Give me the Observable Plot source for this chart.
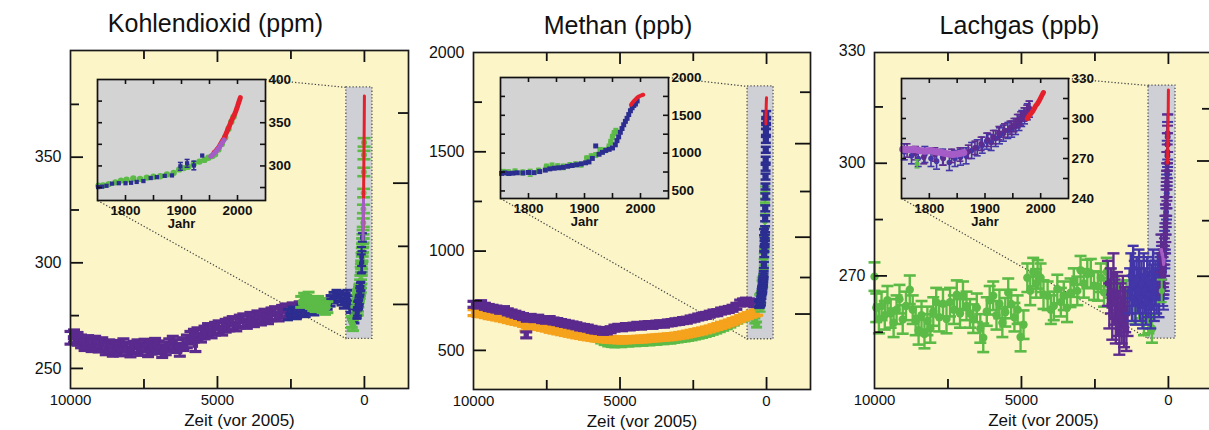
<!DOCTYPE html>
<html><head><meta charset="utf-8">
<script src="https://cdn.jsdelivr.net/npm/d3@7"></script>
<script src="https://cdn.jsdelivr.net/npm/@observablehq/plot@0.6"></script>
<style>
body{margin:0;background:#fff;}
#chart{position:relative;width:1209px;height:430px;overflow:hidden;background:#fff;font-family:"Liberation Sans",Arial,Helvetica,sans-serif;}
#chart svg{position:absolute;overflow:visible;}
</style></head><body><div id="chart"></div>
<script>
// ---------------- DATA ----------------
// main axes (years before 2005)
const xLabelsMain = [10000, 5000, 0];
const xMajorMain = [5000, 0];
const xMinorMain = [7500, 2500];
const insetXTicks = [1800, 1850, 1900, 1950, 2000];
const insetXLabels = [1800, 1900, 2000];

// CO2 (ppm) ice-core, years before 2005: [BP, value]
const co2Purple = [[10000,264.5],[9880,265.2],[9760,264.0],[9640,262.8],[9520,261.5],[9400,262.5],[9280,261.0],[9160,262.2],[9040,260.8],[8920,261.5],[8800,259.5],[8680,260.5],[8560,258.8],[8440,260.2],[8320,259.0],[8200,261.0],[8080,259.5],[7960,258.5],[7840,259.8],[7720,260.5],[7600,259.2],[7480,260.8],[7360,258.6],[7240,259.8],[7120,261.2],[7000,260.0],[6880,258.2],[6760,259.5],[6640,261.0],[6520,262.2],[6400,260.6],[6280,258.8],[6160,261.5],[6040,262.8],[5920,264.5],[5800,265.5],[5750,261.0],[5680,266.2],[5560,265.5],[5440,267.0],[5320,268.2],[5200,267.5],[5080,268.8],[4960,269.5],[4840,268.8],[4720,270.2],[4600,270.8],[4480,271.5],[4360,270.8],[4240,272.2],[4120,272.8],[4000,272.0],[3880,273.5],[3760,272.8],[3640,274.2],[3520,273.6],[3400,275.0],[3280,274.2],[3160,275.6],[3040,276.2],[2920,275.5],[2800,276.8],[2680,277.5],[2560,276.8],[2440,278.0],[2320,277.2],[2200,278.5],[2080,277.8]];
const co2NavyBP = [[2600,275.5],[2450,276.5],[2300,276.0],[2150,277.5],[2000,277.0],[1850,278.5],[1700,277.8],[1550,279.0],[1400,279.5],[1250,280.5],[1150,282.0],[1050,283.5],[950,284.5],[850,284.0],[780,282.5],[700,281.0],[640,283.0],[580,284.5],[520,282.0],[470,279.0],[420,276.5],[380,275.0],[340,274.0],[300,277.0],[270,279.5]];
const co2GreenBP = [[2150,281.5],[2050,283.0],[1980,282.0],[1900,283.5],[1820,281.0],[1740,280.0],[1660,279.5],[1580,281.5],[1500,280.5],[1420,279.0],[1340,278.2],[1260,279.0],[430,272.0],[390,270.5]];
// CO2 recent, calendar years: [year, value(, error)]
const co2Green = [[1752,277],[1760,277.5],[1770,279],[1782,281],[1792,283],[1802,284],[1814,285.5],[1826,285],[1838,286.5],[1850,287.5],[1862,288],[1874,290],[1886,292],[1896,296],[1904,297.5],[1912,299],[1922,302.5],[1932,305],[1941,307],[1948,309.5],[1955,311.5],[1960,313.5],[1966,319],[1972,325.5],[1978,333],[1984,343],[1989,351],[1993,357]];
const co2Navy = [[1751,275.5],[1758,276],[1766,277],[1776,279.5],[1788,280],[1800,280],[1810,280.5],[1820,281.5],[1832,282.5],[1845,286],[1856,287],[1870,288.5],[1883,289],[1898,299.5,4.5],[1910,303,4.5],[1922,300.5,5],[1937,312]];
const co2Violet = [[1952,311],[1956,313],[1960,315.5],[1964,318.5],[1968,322],[1972,326],[1976,330]];
const co2Red = [[1958,315.5],[1961,317],[1964,319.5],[1967,322],[1970,325.5],[1973,329],[1976,332],[1979,336.5],[1982,341],[1985,345.5],[1988,350.5],[1991,355],[1994,358.5],[1997,363.5],[2000,369],[2003,375],[2005,379]];
const co2Window = [614, -273, 264, 383]; // zoom box: BP from, BP to, ppm low, ppm high

// CH4 (ppb)
const ch4Purple = [[10000,732],[9870,728],[9740,735],[9610,722],[9480,716],[9350,712],[9220,708],[9090,702],[8960,705],[8830,694],[8700,688],[8570,682],[8440,676],[8310,670],[8200,578],[8180,662],[8050,666],[7920,660],[7790,662],[7660,655],[7530,652],[7400,655],[7270,648],[7140,645],[7010,640],[6880,636],[6750,632],[6620,628],[6490,624],[6360,618],[6230,615],[6100,612],[5970,606],[5840,602],[5710,600],[5580,596],[5450,598],[5320,604],[5190,612],[5060,616],[4930,614],[4800,620],[4670,618],[4540,622],[4410,626],[4280,622],[4150,628],[4020,630],[3890,626],[3760,632],[3630,634],[3500,632],[3370,638],[3240,640],[3110,644],[2980,646],[2850,650],[2720,652],[2590,658],[2460,662],[2330,668],[2200,672],[2070,676],[1940,682],[1810,688],[1680,690],[1550,698],[1420,702],[1290,706],[1160,712],[1030,722],[900,738],[800,744],[700,748],[600,744],[500,740],[420,736]];
const ch4Orange = [[10000,690],[9870,686],[9740,684],[9610,680],[9480,675],[9350,672],[9220,668],[9090,664],[8960,660],[8830,655],[8700,650],[8570,646],[8440,642],[8310,636],[8230,612],[8180,630],[8050,628],[7920,624],[7790,620],[7660,616],[7530,612],[7400,606],[7270,602],[7140,598],[7010,594],[6880,590],[6750,586],[6620,582],[6490,578],[6360,575],[6230,571],[6100,568],[5970,565],[5840,562],[5710,560],[5580,558],[5450,556],[5320,555],[5190,554],[5060,553],[4930,552],[4800,553],[4670,554],[4540,555],[4410,556],[4280,557],[4150,558],[4020,560],[3890,562],[3760,563],[3630,565],[3500,566],[3370,568],[3240,569],[3110,572],[2980,575],[2850,578],[2720,582],[2590,586],[2460,590],[2330,594],[2200,598],[2070,603],[1940,608],[1810,614],[1680,620],[1550,626],[1420,632],[1290,638],[1160,645],[1030,652],[900,660],[770,668],[640,675],[510,682],[400,688],[320,692]];
const ch4GreenBP = [[6500,618],[6380,610],[6260,602],[6140,596],[6020,585],[5900,572],[5780,560],[5660,550],[5540,542],[5420,535],[5300,532],[5180,530],[5060,534],[4940,531],[4820,536],[4700,534],[4580,538],[4460,536],[4340,540],[4220,538],[4100,542],[3980,540],[3860,544],[3740,543],[3620,547],[3500,546],[3380,550],[3260,549],[3140,553],[3020,555],[2900,558],[2780,560],[2660,563],[2540,566],[2420,570],[2300,574],[2180,578],[2060,583],[1940,588],[1820,594],[1700,600],[1580,607],[1460,614],[1340,622],[1220,630],[1100,640],[980,650],[860,658],[740,665],[620,672],[500,676],[400,650],[340,630]];
const ch4Navy = [[1752,732],[1758,738],[1765,730],[1772,735],[1780,740],[1790,738],[1800,744],[1810,742],[1820,756],[1830,775],[1838,792],[1846,800],[1854,806],[1862,812],[1870,826],[1878,836],[1886,846],[1894,858],[1902,872],[1908,884],[1914,930],[1920,1095],[1926,985],[1932,1010],[1938,1035],[1944,1050],[1950,1068],[1955,1110],[1958,1165],[1961,1215],[1964,1275],[1967,1325],[1970,1375],[1973,1420],[1976,1460],[1979,1510],[1982,1560],[1985,1600],[1988,1630],[1991,1650],[1994,1690]];
const ch4Green = [[1755,752,30],[1764,742,35],[1776,758,30],[1790,745,30],[1803,740,45],[1818,768,30],[1832,822,30],[1842,832,35],[1852,826,30],[1862,818,35],[1874,842,30],[1884,852,30],[1894,848,30],[1904,935,25],[1912,958,30],[1920,975,30],[1928,1042,30],[1936,1038,30],[1944,1088,30],[1947,1150,30],[1950,1215,30],[1953,1265,30],[1956,1295,30]];
const ch4Red = [[1983,1640],[1986,1668],[1989,1695],[1992,1718],[1995,1738],[1998,1752],[2001,1762],[2003,1768],[2005,1772]];
const ch4Window = [648, -239, 556, 1829];

// N2O (ppb)
const n2oGreenBP = [[10000,269.8],[9940,261.5],[9850,258.5],[9760,262.0],[9650,259.5],[9560,263.5],[9450,260.0],[9350,257.5],[9250,261.0],[9150,263.8],[9040,258.4],[8930,262.0],[8800,266.3],[8700,261.0],[8600,258.0],[8500,255.5],[8400,259.5],[8300,254.5],[8200,258.0],[8100,256.0],[8000,260.5],[7900,263.0],[7800,259.0],[7670,262.6],[7550,258.5],[7430,263.0],[7300,261.0],[7200,265.0],[7090,260.0],[6990,264.7],[6870,262.0],[6750,260.0],[6640,258.6],[6520,261.5],[6400,256.0],[6300,253.5],[6180,260.5],[6080,263.5],[5960,264.7],[5850,259.5],[5750,262.5],[5650,257.5],[5550,260.3],[5450,265.5],[5350,262.5],[5240,259.0],[5130,261.0],[5030,253.7],[4930,257.0],[4800,269.5],[4700,266.0],[4600,271.0],[4500,268.0],[4450,270.4],[4350,269.5],[4250,265.0],[4110,264.7],[4000,261.0],[3900,262.0],[3780,266.5],[3660,263.0],[3560,264.7],[3450,261.5],[3330,265.5],[3220,268.2],[3100,266.0],[2990,271.5],[2880,268.0],[2760,270.5],[2640,270.7],[2530,267.4],[2400,267.2],[2300,269.5],[2190,265.6],[2100,271.0],[1980,268.0],[1860,266.0],[1700,264.5],[1560,263.0],[1420,265.0],[1160,261.0],[1000,262.5],[830,258.0],[680,258.5],[560,256.0]];
const n2oPurpleBP = [[2060,268],[2010,262],[1960,266],[1910,259],[1870,270],[1830,263],[1790,258],[1750,265],[1710,260],[1670,255],[1630,262],[1590,258],[1550,264],[1510,257],[1470,261],[1430,256],[1390,260]];
const n2oNavyBP = [[1320,266],[1280,270],[1240,264],[1200,272],[1160,268],[1120,263],[1080,269],[1040,266],[1000,271],[960,264],[920,268],[880,262],[840,270],[800,266],[760,263],[720,269],[680,265],[640,268],[600,262],[560,267],[520,271],[480,264],[440,268],[400,266],[360,270],[320,265],[290,269]];
const n2oViolet = [[1752,277],[1762,276.5],[1772,277],[1782,276],[1792,275.5],[1802,276],[1812,275],[1822,274.5],[1832,273.5],[1842,273],[1852,273.5],[1862,274.5]];
const n2oNavy = [[1755,275],[1768,272],[1780,270],[1792,273],[1803,270],[1813,268],[1824,271],[1836,267],[1846,270],[1856,271],[1866,272],[1876,276],[1886,278],[1895,280],[1903,283],[1911,282],[1919,285],[1926,287],[1933,289],[1941,291],[1948,292],[1955,294],[1961,297],[1966,300],[1971,302],[1976,305],[1980,307]];
const n2oPurple = [[1760,276],[1775,274],[1790,271],[1810,273],[1825,270],[1840,272],[1855,273],[1870,275],[1882,278],[1893,281],[1905,284],[1915,286],[1925,289],[1935,291],[1945,293],[1952,295],[1958,298],[1964,300],[1970,303],[1975,305],[1979,308]];
const n2oGreen = [[1778,266,3]];
const n2oRed = [[1976,300],[1979,302],[1982,303.5],[1985,305],[1988,307],[1991,309.5],[1994,311],[1997,313],[2000,315.5],[2003,318],[2005,319.5]];
const n2oWindow = [677, -242, 253.3, 320.7];

// ---------------- STYLE / LAYOUT ----------------
const H = 430;
const xDomainMain = [10000, -1500];
const FONT = '"Liberation Sans", Arial, Helvetica, sans-serif';
const C = {purple:"#5A2A8E", navy:"#2C2D90", green:"#5CBB47", orange:"#F5A21D", red:"#E51F2B", violet:"#A65CC6", nNavy:"#4236A8", nPurple:"#5E2B8F"};
const YELLOW = "#FCF5C8", INSET_GRAY = "#D3D3D3", WIN_GRAY = "#CFD0D6";

const capSym = {draw(ctx, size){ const w = Math.sqrt(size/Math.PI); ctx.moveTo(-w,0); ctx.lineTo(w,0); }};

function seriesMarks(data, xf, st) {
  const errOf = d => (d[2] !== undefined ? d[2] : (st.err || 0));
  const withErr = data.filter(d => errOf(d) > 0);
  const m = [];
  if (st.line) m.push(Plot.line(data, {x: xf, y: d => d[1], stroke: st.color, strokeWidth: st.line, strokeLinecap: "round", strokeLinejoin: "round"}));
  if (st.cap && withErr.length) {
    m.push(Plot.ruleX(withErr, {x: xf, y1: d => d[1] - errOf(d), y2: d => d[1] + errOf(d), stroke: st.color, strokeWidth: st.rw || 1.5}));
    for (const s of [-1, 1]) m.push(Plot.dot(withErr, {x: xf, y: d => d[1] + s*errOf(d), symbol: capSym, r: st.cap, stroke: st.color, strokeWidth: st.cw || 2, fill: "none"}));
  }
  if (st.r) m.push(Plot.dot(data, {x: xf, y: d => d[1], symbol: st.sym || "circle", r: st.r, fill: st.color, stroke: "none"}));
  return m;
}

const panels = [
  {
    title: "Kohlendioxid (ppm)", left: 0, width: 410, ml: 70, mr: 2, mt: 50, mb: 42,
    yDomain: [240.5, 400.5], yLabels: [250,300,350], yMajor: [250,300,350], yMinor: [275,325,375],
    rLong: [337.7, 280.3], rShort: [370.9, 307.8], win: co2Window,
    inset: {left: 97, right: 265, top: 79, bottom: 200, yDomain: [260,400], yTicks: [275,300,325,350,375], yLabels: [300,350,400]},
    series: [
      {data: co2Purple, t: "bp", main: {color: C.purple, err: 3, cap: 6, cw: 3.2, rw: 3, r: 3, sym: "square"}},
      {data: co2NavyBP, t: "bp", main: {color: C.navy, err: 2.5, cap: 5, cw: 3, rw: 2.6, r: 2.8, sym: "square"}},
      {data: co2GreenBP, t: "bp", main: {color: C.green, err: 2.6, cap: 6, cw: 3, rw: 2.8, r: 3.4}},
      {data: co2Green, t: "ad", main: {color: C.green, err: 2, cap: 6.5, cw: 2.6, rw: 2, r: 3}, inset: {color: C.green, r: 3.2}},
      {data: co2Navy, t: "ad", main: {color: C.navy, err: 2, cap: 4.5, cw: 2.2, rw: 2, r: 2.6, sym: "square"}, inset: {color: C.navy, r: 2.4, sym: "square", cap: 2.5, cw: 1.5, rw: 1.5}},
      {data: co2Red, t: "ad", main: {color: C.red, line: 3}, inset: {color: C.red, line: 5}},
      {data: co2Violet, t: "ad", main: {color: C.violet, line: 3}, inset: {color: C.violet, line: 5}}
    ]
  },
  {
    title: "Methan (ppb)", left: 410, width: 400, ml: 63, mr: 0, mt: 52, mb: 41,
    yDomain: [303, 2000], yLabels: [500,1000,1500,2000], yMajor: [500,1000,1500], yMinor: [750,1250,1750],
    rLong: [1541, 1070, 683], rShort: [1800, 1300, 867], win: ch4Window,
    inset: {left: 500, right: 668, top: 77, bottom: 198, yDomain: [400,2000], yTicks: [500,750,1000,1250,1500,1750], yLabels: [500,1000,1500,2000]},
    series: [
      {data: ch4GreenBP, t: "bp", main: {color: C.green, err: 13, cap: 5.5, cw: 3, rw: 3, r: 3.4}},
      {data: ch4Orange, t: "bp", main: {color: C.orange, err: 15, cap: 6, cw: 3.2, rw: 3, r: 3, sym: "square"}},
      {data: ch4Purple, t: "bp", main: {color: C.purple, err: 15, cap: 6, cw: 3.2, rw: 3, r: 3, sym: "square"}},
      {data: ch4Green, t: "ad", main: {color: C.green, cap: 5, cw: 2.2, rw: 2, r: 3}, inset: {color: C.green, cap: 2.5, cw: 1.5, rw: 1.5, r: 2.8}},
      {data: ch4Navy, t: "ad", main: {color: C.navy, err: 15, cap: 5, cw: 2.5, rw: 2.5, r: 3.5, sym: "square"}, inset: {color: C.navy, r: 2.8, sym: "square"}},
      {data: ch4Red, t: "ad", main: {color: C.red, line: 3}, inset: {color: C.red, line: 4}}
    ]
  },
  {
    title: "Lachgas (ppb)", left: 800, width: 412, ml: 74, mr: 0, mt: 52, mb: 42,
    yDomain: [240, 329.5], yLabels: [270,300,330], yMajor: [270,300], yMinor: [255,285,315],
    rLong: [300.6, 269.9], rShort: [314.5, 284.7], win: n2oWindow,
    inset: {left: 901, right: 1068, top: 78, bottom: 198, yDomain: [240,330], yTicks: [255,270,285,300,315], yLabels: [240,270,300,330]},
    series: [
      {data: n2oGreenBP, t: "bp", main: {color: C.green, err: 3.8, cap: 6, cw: 2.6, rw: 2.4, r: 4.2}},
      {data: n2oPurpleBP, t: "bp", main: {color: C.nPurple, err: 6, cap: 6, cw: 2.4, rw: 2.4, r: 3.2, sym: "square"}},
      {data: n2oNavyBP, t: "bp", main: {color: C.nNavy, err: 6, cap: 5.5, cw: 2.4, rw: 2.4, r: 3.2}},
      {data: n2oNavy, t: "ad", main: {color: C.nNavy, err: 6, cap: 5.5, cw: 2, rw: 2, r: 3}, inset: {color: C.nNavy, err: 6, cap: 3.5, cw: 1.6, rw: 1.6, r: 2.8}},
      {data: n2oPurple, t: "ad", main: {color: C.nPurple, err: 5, cap: 5.5, cw: 2, rw: 2, r: 3}, inset: {color: C.nPurple, err: 5, cap: 3.5, cw: 1.6, rw: 1.6, r: 2.8}},
      {data: n2oViolet, t: "ad", main: {color: C.violet, line: 3}, inset: {color: C.violet, line: 7}},
      {data: n2oGreen, t: "ad", main: {color: C.green, cap: 5, cw: 2, rw: 2, r: 3}, inset: {color: C.green, cap: 2.5, cw: 1.5, rw: 1.5, r: 2.5}},
      {data: n2oRed, t: "ad", main: {color: C.red, line: 3}, inset: {color: C.red, line: 5}}
    ]
  }
];

const chart = document.getElementById("chart");
const txt = {fill: "#111", fontFamily: FONT};

function drawMain(p) {
  const fw = p.width - p.ml - p.mr, fh = H - p.mt - p.mb;
  const sx = d3.scaleLinear(xDomainMain, [p.ml, p.width - p.mr]);
  const sy = d3.scaleLinear(p.yDomain, [H - p.mb, p.mt]);
  const ins = p.inset;
  const links = [
    {x1: sx.invert(ins.right - p.left), y1: sy.invert(ins.top), x2: p.win[0], y2: p.win[3]},
    {x1: sx.invert(ins.left - p.left), y1: sy.invert(ins.bottom), x2: p.win[0], y2: p.win[2]}
  ];
  const marks = [
    Plot.frame({fill: YELLOW, stroke: "none"}),
    Plot.rect([p.win], {x1: d => d[0], x2: d => d[1], y1: d => d[2], y2: d => d[3], fill: WIN_GRAY, stroke: "#555", strokeWidth: 1.3, strokeDasharray: "1.3,2"}),
    Plot.link(links, {x1: "x1", y1: "y1", x2: "x2", y2: "y2", stroke: "#444", strokeWidth: 1.2, strokeDasharray: "1.3,2"})
  ];
  for (const s of p.series) {
    const xf = s.t === "bp" ? (d => d[0]) : (d => 2005 - d[0]);
    marks.push(...seriesMarks(s.data, xf, s.main));
  }
  const tk = {stroke: "#111", strokeWidth: 1.8};
  marks.push(
    Plot.ruleX(xMajorMain, {x: d => d, insetTop: fh - 12, ...tk}),
    Plot.ruleX(xMinorMain, {x: d => d, insetTop: fh - 9, ...tk}),
    Plot.ruleX(xMajorMain, {x: d => d, insetBottom: fh - 12, ...tk}),
    Plot.ruleX(xMinorMain, {x: d => d, insetBottom: fh - 9, ...tk}),
    Plot.ruleY(p.yMajor, {y: d => d, insetRight: fw - 13, ...tk}),
    Plot.ruleY(p.yMinor, {y: d => d, insetRight: fw - 9, ...tk}),
    Plot.ruleY(p.rLong, {y: d => d, insetLeft: fw - 15, ...tk}),
    Plot.ruleY(p.rShort, {y: d => d, insetLeft: fw - 10, ...tk}),
    Plot.frame({stroke: "#1a1a1a", strokeWidth: 1.7}),
    Plot.text(p.yLabels, {y: d => d, text: d => String(d), frameAnchor: "left", textAnchor: "end", dx: -9, fontSize: 16, ...txt}),
    Plot.text(xLabelsMain, {x: d => d, text: d => String(d), frameAnchor: "bottom", lineAnchor: "top", dy: 6, fontSize: 15, ...txt}),
    Plot.text(["Zeit (vor 2005)"], {text: d => d, frameAnchor: "bottom", lineAnchor: "bottom", dy: 37, fontSize: 17, ...txt}),
    Plot.text([p.title], {text: d => d, frameAnchor: "top", lineAnchor: "bottom", dx: -24, dy: -19, fontSize: 25, ...txt})
  );
  const svg = Plot.plot({
    width: p.width, height: H, marginLeft: p.ml, marginRight: p.mr, marginTop: p.mt, marginBottom: p.mb,
    x: {domain: xDomainMain, axis: null}, y: {domain: p.yDomain, axis: null},
    style: {background: "transparent", overflow: "visible", fontFamily: FONT},
    marks
  });
  svg.style.left = p.left + "px"; svg.style.top = "0px";
  chart.appendChild(svg);
}

function drawInset(p) {
  const ins = p.inset;
  const ml = 5, mr = 45, mt = 12, mb = 42;
  const fw = ins.right - ins.left, fh = ins.bottom - ins.top;
  const marks = [Plot.frame({fill: INSET_GRAY, stroke: "none"})];
  for (const s of p.series) if (s.inset) marks.push(...seriesMarks(s.data, d => d[0], s.inset));
  const tk = {stroke: "#111", strokeWidth: 1.6};
  marks.push(
    Plot.ruleX(insetXTicks, {x: d => d, insetTop: fh - 5, ...tk}),
    Plot.ruleX(insetXTicks, {x: d => d, insetBottom: fh - 5, ...tk}),
    Plot.ruleY(ins.yTicks, {y: d => d, insetRight: fw - 5, ...tk}),
    Plot.ruleY(ins.yTicks, {y: d => d, insetLeft: fw - 5, ...tk}),
    Plot.frame({stroke: "#111", strokeWidth: 1.7}),
    Plot.text(ins.yLabels, {y: d => d, text: d => String(d), frameAnchor: "right", textAnchor: "start", dx: 3, fontSize: 13.5, fontWeight: "bold", ...txt}),
    Plot.text(insetXLabels, {x: d => d, text: d => String(d), frameAnchor: "bottom", lineAnchor: "top", dy: 5, fontSize: 13.5, fontWeight: "bold", ...txt}),
    Plot.text(["Jahr"], {text: d => d, frameAnchor: "bottom", lineAnchor: "top", dy: 18, fontSize: 13, fontWeight: "bold", ...txt})
  );
  const svg = Plot.plot({
    width: fw + ml + mr, height: fh + mt + mb, marginLeft: ml, marginRight: mr, marginTop: mt, marginBottom: mb,
    x: {domain: [1750, 2050], axis: null}, y: {domain: ins.yDomain, axis: null},
    style: {background: "transparent", overflow: "visible", fontFamily: FONT},
    marks
  });
  svg.style.left = (ins.left - ml) + "px"; svg.style.top = (ins.top - mt) + "px";
  chart.appendChild(svg);
}

for (const p of panels) drawMain(p);
for (const p of panels) drawInset(p);
</script>
</body></html>
